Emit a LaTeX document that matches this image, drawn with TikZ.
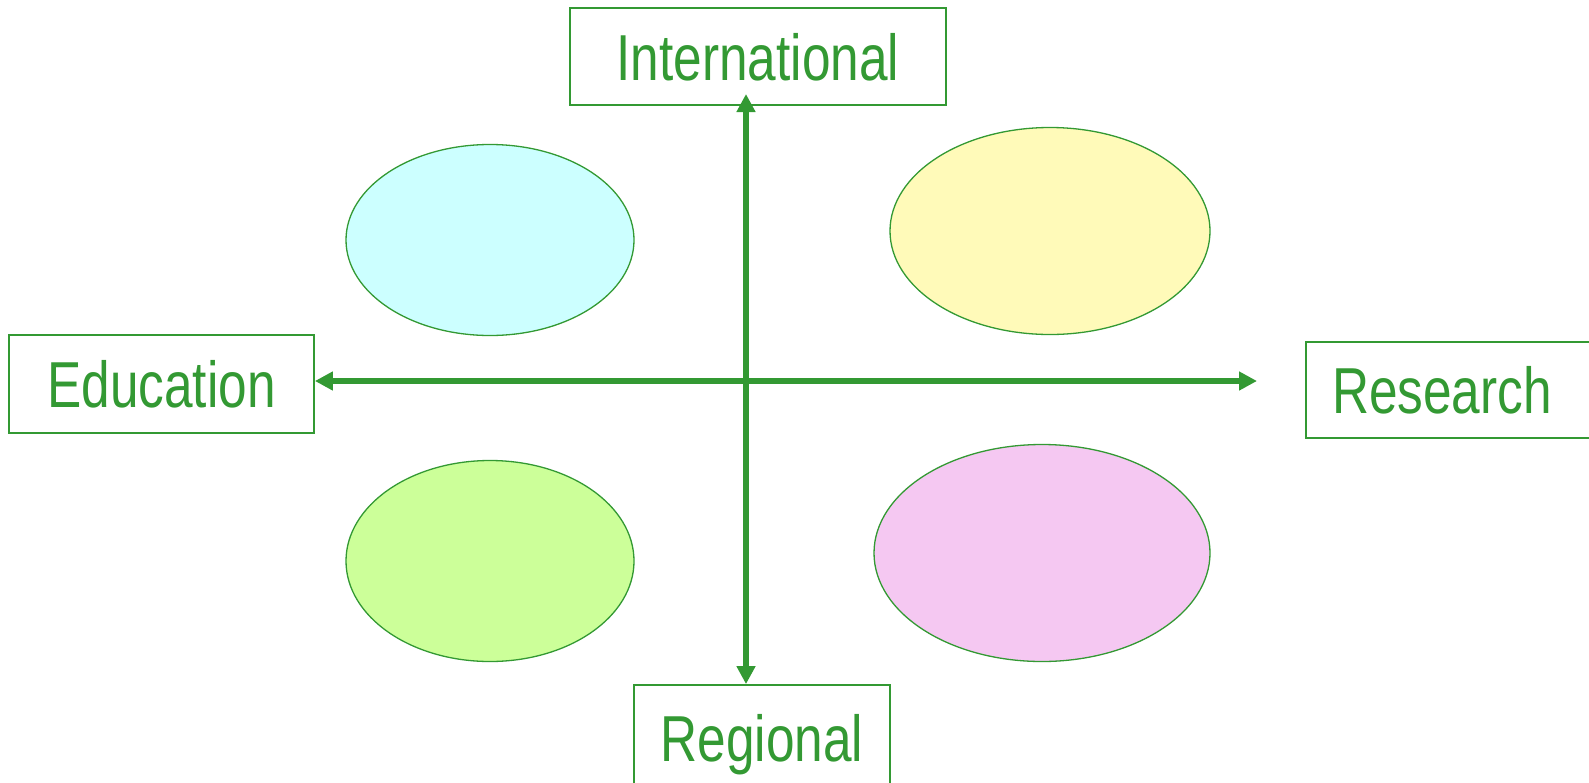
\documentclass[tikz,border=0pt]{standalone}
\usepackage{fontspec}
\setmainfont{Liberation Sans}[FakeStretch=0.79]
\usetikzlibrary{shapes.geometric, arrows.meta}
\definecolor{leaf}{RGB}{51,153,51}
\definecolor{cyanfill}{RGB}{204,255,255}
\definecolor{yellowfill}{RGB}{255,250,185}
\definecolor{greenfill}{RGB}{204,255,153}
\definecolor{pinkfill}{RGB}{245,200,242}

\begin{document}
\begin{tikzpicture}[x=1pt, y=-1pt,
                    label box/.style={draw=leaf, line width=1.8pt, text=leaf, align=center, inner sep=0pt,
                                      font=\fontsize{65}{70}\selectfont, text height=47pt, text depth=0pt},
                    blob/.style={ellipse, draw=leaf, line width=1.3pt, inner sep=0pt},
                    axis/.style={{Triangle[length=18pt,width=18pt]}-{Triangle[length=18pt,width=18pt]}, draw=leaf, line width=5.5pt}]
    \useasboundingbox (0,0) rectangle (1589,782);
    \node[label box, minimum width=376pt, minimum height=97pt] (intl) at (758,56.5) {International};
    \node[label box, minimum width=305pt, minimum height=98pt] (educ) at (161.5,384) {Education};
    \node[label box, minimum width=289pt, minimum height=96pt, text width=237pt, inner xsep=26pt, align=left] (rsch) at (1450.5,390) {Research};
    \node[label box, minimum width=256pt, minimum height=105pt] (regn) at (762,737.5) {Regional};
    \node[blob, fill=cyanfill, minimum width=288pt, minimum height=191pt] (eduintl) at (490,240) {};
    \node[blob, fill=yellowfill, minimum width=320pt, minimum height=207pt] (resintl) at (1050,231) {};
    \node[blob, fill=greenfill, minimum width=288pt, minimum height=201pt] (edureg) at (490,561) {};
    \node[blob, fill=pinkfill, minimum width=336pt, minimum height=217pt] (resreg) at (1042,553) {};
    \coordinate (ctr) at (746,381);
    \coordinate (ax-top) at (746,94);
    \coordinate (ax-right) at (1257,381);
    \draw[axis] (ax-top) -- (regn.north -| ctr);
    \draw[axis] (educ.east |- ctr) -- (ax-right);
\end{tikzpicture}
\end{document}
